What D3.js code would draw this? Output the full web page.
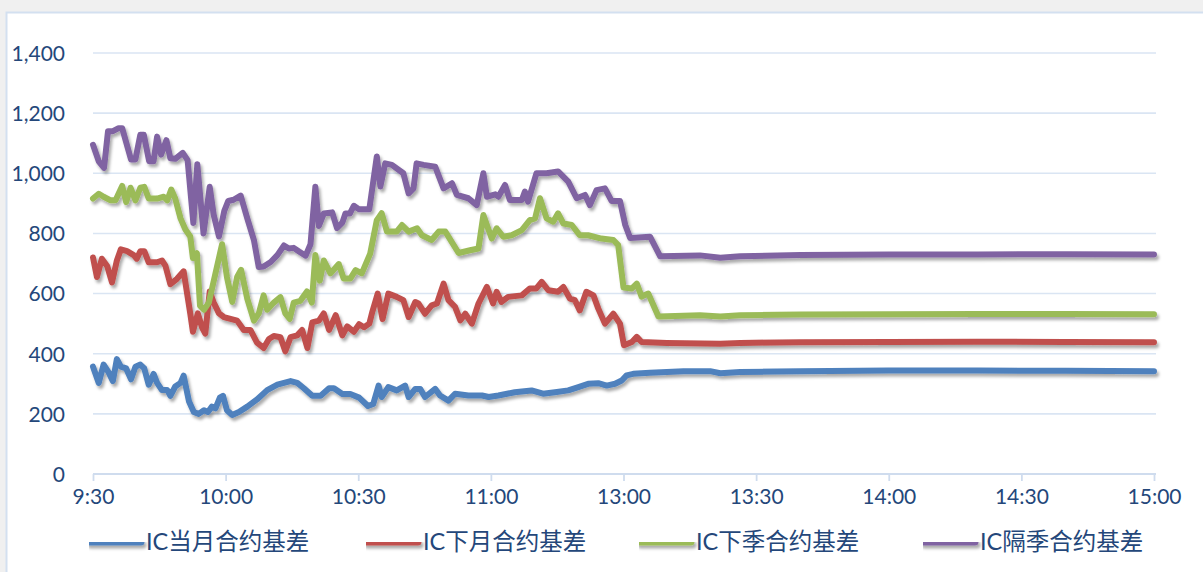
<!DOCTYPE html>
<html><head><meta charset="utf-8">
<script src="https://cdn.jsdelivr.net/npm/d3@7"></script>
<style>
html,body{margin:0;padding:0;background:#f0f0f0;}
svg{display:block;}
</style></head>
<body>
<svg id="chart" width="1203" height="572"></svg>
<script>
// minutes since 9:30 on a trading-time axis (11:30 and 13:00 coincide)
const tickMinutes = [0,30,60,90,120,150,180,210,240];
const tickLabels = ["9:30","10:00","10:30","11:00","13:00","13:30","14:00","14:30","15:00"];
const yTicks = [0,200,400,600,800,1000,1200,1400];
const seriesNames = ["IC当月合约基差","IC下月合约基差","IC下季合约基差","IC隔季合约基差"];
const seriesColors = ["#4f81bd","#c0504d","#9bbb59","#8064a2"];

const icMonth = [[0,357],[1.3,303],[2.4,364],[3.5,339],[4.5,309],[5.4,382],[6.3,357],[7.5,351],[8.6,315],[9.6,357],[10.7,364],[11.6,351],[12.6,297],[13.7,333],[14.5,303],[15.6,279],[16.8,279],[17.5,260],[18.6,291],[19.8,303],[20.5,327],[21.7,242],[22.8,206],[23.9,200],[25.1,212],[26.0,206],[26.9,224],[27.7,218],[28.7,254],[29.4,260],[30.3,212],[31.5,196],[33.0,206],[34.9,224],[37.1,248],[39.4,279],[41.7,297],[44.7,309],[46.2,303],[47.7,285],[49.6,260],[51.5,260],[53.4,285],[54.5,285],[56.4,266],[58.2,266],[60.2,254],[62.2,226],[63.4,233],[64.6,294],[65.3,256],[66.8,289],[68.7,278],[70.6,294],[71.4,256],[72.9,283],[74.0,283],[75.1,256],[77.4,283],[78.5,261],[80.4,244],[81.9,267],[84.9,261],[88.0,261],[89.5,256],[91.7,261],[95.4,272],[99.2,278],[101.8,267],[104.5,272],[107.5,278],[109.8,289],[112.0,300],[114.3,302],[116.2,294],[118.1,300],[119.6,311],[120.7,328],[122.2,333],[126.0,337],[133.6,342],[139.6,342],[141.9,335],[146.4,339],[160,342],[180,344],[200,344],[220,343],[240,342]];

const icNextMonth = [[0,720],[0.9,655],[2.0,716],[3.2,692],[4.3,637],[5.4,710],[6.3,747],[7.7,741],[9.2,728],[9.9,716],[10.7,741],[11.6,741],[12.6,704],[14.5,704],[15.6,710],[16.4,692],[17.5,631],[19.0,649],[20.5,674],[22.0,534],[22.6,473],[23.7,534],[24.7,486],[25.4,467],[26.4,607],[27.3,570],[28.5,534],[29.6,522],[31.1,516],[32.6,510],[34.1,479],[35.6,479],[37.1,437],[38.6,419],[39.8,449],[40.9,459],[42.4,455],[43.5,408],[44.7,455],[46.2,461],[47.3,479],[48.5,419],[49.6,504],[51.1,510],[52.2,534],[53.4,479],[54.9,528],[56.4,461],[57.5,491],[59.0,473],[60.2,498],[61.3,488],[62.5,500],[63.2,540],[64.4,600],[65.5,515],[66.8,600],[68.7,589],[70.2,578],[71.4,522],[72.9,572],[73.6,567],[75.1,533],[76.6,561],[77.8,567],[79.3,633],[80.4,578],[81.9,556],[83.1,511],[84.2,533],[85.7,500],[87.2,567],[89.1,622],[90.5,567],[91.3,606],[92.4,572],[93.9,589],[97.0,594],[98.8,617],[100.3,617],[101.5,639],[103.0,611],[105.2,606],[106.4,622],[107.9,583],[109.0,578],[110.1,544],[111.6,606],[113.2,594],[114.3,550],[115.8,500],[117.7,533],[119.2,500],[120.1,428],[121.9,439],[123.0,456],[124.1,439],[129.8,436],[141.9,433],[146.4,436],[160,438],[180,439],[200,440],[220,439],[240,438]];

const icNextQuarter = [[0,916],[1.3,932],[2.4,922],[4.0,910],[5.1,910],[6.6,958],[7.5,904],[8.5,952],[9.6,910],[10.7,952],[11.6,955],[12.6,916],[14.5,916],[16.0,922],[16.8,910],[17.7,946],[18.6,916],[19.8,850],[20.9,813],[22.0,790],[22.6,718],[23.5,734],[24.2,560],[25.1,546],[26.2,570],[27.7,667],[29.2,764],[30.3,655],[31.5,572],[32.6,655],[33.5,679],[34.9,582],[36.4,510],[37.5,534],[38.6,594],[39.4,546],[40.9,570],[42.4,588],[43.5,534],[44.5,516],[45.4,570],[46.9,576],[48.4,607],[49.5,570],[50.3,728],[51.3,643],[52.2,710],[53.7,667],[55.6,698],[56.7,650],[58.2,650],[59.4,678],[60.8,667],[62.7,733],[64.2,844],[65.3,867],[66.5,806],[68.7,806],[69.9,828],[71.4,806],[73.3,817],[74.4,794],[76.6,778],[78.2,806],[79.7,806],[82.7,735],[85.3,744],[87.2,750],[88.3,861],[89.5,811],[90.2,783],[91.3,817],[92.8,789],[94.7,794],[97.0,811],[98.8,844],[100.0,850],[101.1,917],[102.6,850],[104.1,839],[105.2,867],[106.4,833],[108.3,828],[110.1,794],[112.0,794],[115.0,783],[117.7,778],[118.8,761],[120.0,620],[121.9,617],[123.0,633],[124.1,590],[125.6,600],[127.9,524],[137.3,528],[141.9,524],[146.4,528],[160,530],[180,531],[200,532],[220,532],[240,531]];

const icFarQuarter = [[0,1095],[1.3,1040],[2.5,1018],[3.4,1140],[4.5,1140],[5.8,1150],[6.6,1150],[8.6,1046],[9.6,1046],[10.7,1128],[11.5,1128],[12.7,1040],[13.7,1040],[14.5,1122],[15.4,1062],[16.6,1110],[17.5,1050],[18.6,1048],[20.3,1068],[21.4,1044],[22.7,835],[23.6,1030],[25.0,800],[26.4,955],[27.3,862],[28.5,790],[29.7,875],[30.6,908],[31.8,912],[33.4,926],[34.9,850],[36.4,778],[37.5,688],[38.6,690],[40.2,705],[41.7,728],[43.2,760],[44.3,750],[45.4,752],[46.6,740],[48.1,726],[49.2,764],[50.3,955],[51.1,825],[52.2,866],[54.1,870],[55.2,818],[56.4,836],[57.1,866],[58.1,866],[59.0,892],[60.2,880],[61.3,880],[62.5,880],[64.2,1056],[65.0,956],[66.1,1033],[67.6,1028],[70.2,1000],[71.4,933],[72.5,950],[73.2,1033],[74.8,1028],[77.4,1022],[79.3,950],[81.2,967],[82.3,928],[84.9,917],[86.8,894],[88.3,1000],[89.1,922],[91.0,930],[91.7,922],[93.2,961],[94.3,911],[97.0,911],[97.7,939],[98.4,906],[100.3,1000],[102.6,1000],[105.2,1006],[107.5,972],[109.4,917],[111.3,928],[112.4,894],[113.9,944],[115.8,950],[117.3,908],[119.2,908],[120.4,828],[121.5,785],[126.0,789],[128.3,724],[137.3,727],[141.9,719],[146.4,724],[160,728],[180,730],[200,730],[220,731],[240,730]];

const seriesData = [icMonth, icNextMonth, icNextQuarter, icFarQuarter];

const svg = d3.select("#chart");
const defs = svg.append("defs");
const f = defs.append("filter").attr("id","shadow").attr("filterUnits","userSpaceOnUse")
  .attr("x",0).attr("y",0).attr("width",1203).attr("height",572);
f.append("feDropShadow").attr("dx",2).attr("dy",3).attr("stdDeviation",1.6).attr("flood-color","#000").attr("flood-opacity",0.33);

// chart area
svg.append("rect").attr("x",6.5).attr("y",12.5).attr("width",1210).attr("height",580)
  .attr("fill","#ffffff").attr("stroke","#d3e0f0").attr("stroke-width",2);

const x = d3.scaleLinear().domain([0,240]).range([93,1154]);
const y = d3.scaleLinear().domain([0,1400]).range([474,53]);

const labelColor = "#24477a";
const font = "Lato, 'Noto Sans', sans-serif";

// grid lines
svg.append("g").selectAll("line").data(yTicks.filter(d=>d>0)).join("line")
  .attr("x1",x(0)).attr("x2",x(240)+2).attr("y1",d=>y(d)).attr("y2",d=>y(d))
  .attr("stroke","#dae5f3").attr("stroke-width",1.6);

// y axis labels
const yAxis = d3.axisLeft(y).tickValues(yTicks).tickFormat(d3.format(",")).tickSize(0).tickPadding(0);
const yg = svg.append("g").attr("transform","translate(65,0)").call(yAxis);
yg.select(".domain").remove();
yg.selectAll("text").attr("fill",labelColor).style("font-family",font).style("font-size","21px").attr("dy","0.35em");

// x axis
const xAxis = d3.axisBottom(x).tickValues(tickMinutes).tickFormat((d,i)=>tickLabels[i]).tickSize(7).tickSizeOuter(0).tickPadding(8);
const xg = svg.append("g").attr("transform",`translate(0,${y(0)})`).call(xAxis);
xg.select(".domain").attr("stroke","#cfdcee").attr("stroke-width",1.8).attr("d",`M${x(0)},0H${x(240)+2}`);
xg.selectAll(".tick line").attr("stroke","#cfdcee").attr("stroke-width",1.8);
xg.selectAll("text").attr("fill",labelColor).style("font-family",font).style("font-size","21px");

// lines
const line = d3.line().x(d=>x(d[0])).y(d=>y(d[1])).curve(d3.curveLinear);
svg.append("g").attr("filter","url(#shadow)").selectAll("path").data(seriesData).join("path")
  .attr("d",line).attr("fill","none")
  .attr("stroke",(d,i)=>seriesColors[i]).attr("stroke-width",6)
  .attr("stroke-linejoin","round").attr("stroke-linecap","round");

// legend
const legendX = [89,366,639,923];
const lg = svg.append("g").selectAll("g").data(seriesNames).join("g")
  .attr("transform",(d,i)=>`translate(${legendX[i]},542)`);
lg.append("line").attr("x1",0).attr("x2",52).attr("y1",0).attr("y2",0)
  .attr("stroke",(d,i)=>seriesColors[i]).attr("stroke-width",7).attr("stroke-linecap","round")
  .attr("filter","url(#shadow)");
lg.append("text").attr("x",57).attr("y",0).attr("dy","0.36em").text(d=>d)
  .attr("fill",labelColor).style("font-family","Lato, 'Noto Sans CJK SC', sans-serif").style("font-size","23.5px");
</script>
</body></html>
